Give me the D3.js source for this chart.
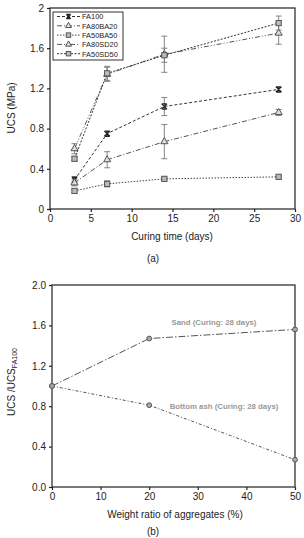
<!DOCTYPE html>
<html>
<head>
<meta charset="utf-8">
<script src="https://cdn.jsdelivr.net/npm/d3@7"></script>
<style>
  body { margin: 0; background: #fff; }
  svg { font-family: "Liberation Sans", Arial, sans-serif; }
</style>
</head>
<body>
<div id="chart"></div>
<script>
'use strict';

// panel (a): UCS vs curing time
var curingDays = [3, 7, 14, 28];
var seriesNames = ['FA100', 'FA80BA20', 'FA50BA50', 'FA80SD20', 'FA50SD50'];
var fa100 = [0.29, 0.75, 1.02, 1.19];
var fa80ba20 = [0.26, 0.49, 0.67, 0.96];
var fa50ba50 = [0.18, 0.25, 0.30, 0.32];
var fa80sd20 = [0.60, 1.34, 1.54, 1.75];
var fa50sd50 = [0.50, 1.35, 1.53, 1.85];
var fa100Err = [0.03, 0.02, 0.09, 0.02];
var fa80ba20Err = [0.03, 0.08, 0.17, 0.03];
var fa50ba50Err = [0.02, 0.03, 0.02, 0.01];
var fa80sd20Err = [0.05, 0.07, 0.18, 0.11];
var fa50sd50Err = [0.02, 0.07, 0.07, 0.07];
var yTicksA = [0, 0.4, 0.8, 1.2, 1.6, 2];
var xTicksA = [0, 5, 10, 15, 20, 25, 30];

// panel (b): UCS ratio vs aggregate ratio
var aggRatio = [0, 20, 50];
var sandRatio = [1.0, 1.47, 1.56];
var bottomAshRatio = [1.0, 0.81, 0.27];
var yTicksB = [0, 0.4, 0.8, 1.2, 1.6, 2.0];
var xTicksB = [0, 10, 20, 30, 40, 50];

var svg = d3.select('#chart').append('svg')
  .attr('width', 304)
  .attr('height', 538);

var ink = '#222';

function drawFrame(g, x, y, xTicks, yTicks, yFmt) {
  var x0 = x.range()[0], x1 = x.range()[1];
  var y0 = y.range()[0], y1 = y.range()[1];
  g.append('rect')
    .attr('x', x0).attr('y', y1)
    .attr('width', x1 - x0).attr('height', y0 - y1)
    .attr('fill', 'none').attr('stroke', ink).attr('stroke-width', 1.2);

  var xAxis = g.append('g').attr('transform', 'translate(0,' + y0 + ')')
    .call(d3.axisBottom(x).tickValues(xTicks).tickSize(3).tickPadding(3));
  var yAxis = g.append('g').attr('transform', 'translate(' + x0 + ',0)')
    .call(d3.axisLeft(y).tickValues(yTicks).tickSize(3).tickPadding(3).tickFormat(yFmt));
  [xAxis, yAxis].forEach(function(ax) {
    ax.select('.domain').remove();
    ax.selectAll('line').attr('stroke', ink).attr('stroke-width', 1.2);
    ax.selectAll('text').attr('fill', ink).style('font-size', '10px')
      .style('font-family', '"Liberation Sans", Arial, sans-serif');
  });
}

function marker(sel, type, size) {
  var s = size || 3;
  if (type === 'x') {
    sel.append('path')
      .attr('d', 'M' + -s + ',' + -s + 'L' + s + ',' + s + 'M' + -s + ',' + s + 'L' + s + ',' + -s +
        'M' + -s + ',' + -s + 'L' + s + ',' + -s + 'M' + -s + ',' + s + 'L' + s + ',' + s)
      .attr('stroke', '#222').attr('stroke-width', 1.3).attr('fill', 'none');
  } else if (type === 'square') {
    sel.append('rect')
      .attr('x', -s).attr('y', -s).attr('width', 2 * s).attr('height', 2 * s)
      .attr('fill', '#bbb').attr('stroke', '#555').attr('stroke-width', 1);
  } else if (type === 'triangle') {
    sel.append('path')
      .attr('d', d3.symbol().type(d3.symbolTriangle).size(s * s * 3.2)())
      .attr('fill', '#ddd').attr('stroke', '#555').attr('stroke-width', 1);
  } else if (type === 'circle') {
    sel.append('circle').attr('r', s)
      .attr('fill', '#aaa').attr('stroke', '#555').attr('stroke-width', 1);
  }
}

// ---------- panel (a)
var xA = d3.scaleLinear().domain([0, 30]).range([50, 295]);
var yA = d3.scaleLinear().domain([0, 2]).range([209, 8]);
var gA = svg.append('g');

var seriesA = [
  { name: seriesNames[0], values: fa100, err: fa100Err, marker: 'x', dash: '3,2', color: '#333' },
  { name: seriesNames[1], values: fa80ba20, err: fa80ba20Err, marker: 'triangle', dash: '5,2,1,2', color: '#555' },
  { name: seriesNames[2], values: fa50ba50, err: fa50ba50Err, marker: 'square', dash: '1.5,1.5', color: '#444' },
  { name: seriesNames[3], values: fa80sd20, err: fa80sd20Err, marker: 'triangle', dash: '5,2,1,2,1,2', color: '#555' },
  { name: seriesNames[4], values: fa50sd50, err: fa50sd50Err, marker: 'square', dash: '2,1.5', color: '#333' }
];

drawFrame(gA, xA, yA, xTicksA, yTicksA, d3.format('~g'));

var lineA = d3.line()
  .x(function(d) { return xA(d.x); })
  .y(function(d) { return yA(d.y); });

seriesA.forEach(function(s) {
  var pts = curingDays.map(function(d, i) { return { x: d, y: s.values[i], e: s.err[i] }; });
  gA.append('path').datum(pts)
    .attr('d', lineA)
    .attr('fill', 'none').attr('stroke', s.color).attr('stroke-width', 1)
    .attr('stroke-dasharray', s.dash);
  var eb = gA.append('g').selectAll('g').data(pts).enter().append('g')
    .attr('stroke', '#777').attr('stroke-width', 0.9);
  eb.append('line')
    .attr('x1', function(d) { return xA(d.x); }).attr('x2', function(d) { return xA(d.x); })
    .attr('y1', function(d) { return yA(d.y - d.e); }).attr('y2', function(d) { return yA(d.y + d.e); });
  eb.append('line')
    .attr('x1', function(d) { return xA(d.x) - 3; }).attr('x2', function(d) { return xA(d.x) + 3; })
    .attr('y1', function(d) { return yA(d.y + d.e); }).attr('y2', function(d) { return yA(d.y + d.e); });
  eb.append('line')
    .attr('x1', function(d) { return xA(d.x) - 3; }).attr('x2', function(d) { return xA(d.x) + 3; })
    .attr('y1', function(d) { return yA(d.y - d.e); }).attr('y2', function(d) { return yA(d.y - d.e); });
  gA.append('g').selectAll('g').data(pts).enter().append('g')
    .attr('transform', function(d) { return 'translate(' + xA(d.x) + ',' + yA(d.y) + ')'; })
    .each(function() { marker(d3.select(this), s.marker, 2.6); });
});

// legend
var leg = gA.append('g').attr('transform', 'translate(53,12)');
leg.append('rect')
  .attr('width', 70).attr('height', 48)
  .attr('fill', '#fff').attr('stroke', '#333').attr('stroke-width', 1);
seriesA.forEach(function(s, i) {
  var row = leg.append('g').attr('transform', 'translate(0,' + (4.5 + i * 9.3) + ')');
  row.append('line').attr('x1', 4).attr('x2', 27).attr('y1', 0).attr('y2', 0)
    .attr('stroke', s.color).attr('stroke-width', 1).attr('stroke-dasharray', s.dash);
  var m = row.append('g').attr('transform', 'translate(15.5,0)');
  marker(m, s.marker, 2.2);
  row.append('text').attr('x', 29).attr('y', 2.8)
    .attr('fill', ink).style('font-size', '7.4px').text(s.name);
});

gA.append('text')
  .attr('transform', 'translate(15,108) rotate(-90)')
  .attr('text-anchor', 'middle').attr('fill', ink).style('font-size', '10px')
  .text('UCS (MPa)');
gA.append('text')
  .attr('x', 172).attr('y', 240).attr('text-anchor', 'middle')
  .attr('fill', ink).style('font-size', '10px').text('Curing time (days)');
gA.append('text')
  .attr('x', 153).attr('y', 262).attr('text-anchor', 'middle')
  .attr('fill', ink).style('font-size', '10px').text('(a)');

// ---------- panel (b)
var xB = d3.scaleLinear().domain([0, 50]).range([52, 295]);
var yB = d3.scaleLinear().domain([0, 2]).range([487, 285]);
var gB = svg.append('g');

drawFrame(gB, xB, yB, xTicksB, yTicksB, d3.format('.1f'));

var seriesB = [
  { values: sandRatio, dash: '7,2,1.5,2', label: 'Sand (Curing: 28 days)', lx: 214, ly: 325 },
  { values: bottomAshRatio, dash: '3,2,1,2', label: 'Bottom ash (Curing: 28 days)', lx: 224, ly: 409 }
];

var lineB = d3.line()
  .x(function(d) { return xB(d.x); })
  .y(function(d) { return yB(d.y); });

seriesB.forEach(function(s) {
  var pts = aggRatio.map(function(d, i) { return { x: d, y: s.values[i] }; });
  gB.append('path').datum(pts)
    .attr('d', lineB)
    .attr('fill', 'none').attr('stroke', '#555').attr('stroke-width', 1)
    .attr('stroke-dasharray', s.dash);
  gB.append('g').selectAll('g').data(pts).enter().append('g')
    .attr('transform', function(d) { return 'translate(' + xB(d.x) + ',' + yB(d.y) + ')'; })
    .each(function() { marker(d3.select(this), 'circle', 2.4); });
  gB.append('text')
    .attr('x', s.lx).attr('y', s.ly).attr('text-anchor', 'middle')
    .attr('fill', '#999').style('font-size', '7.8px').style('font-weight', 'bold')
    .text(s.label);
});

var yLab = gB.append('text')
  .attr('transform', 'translate(15,382) rotate(-90)')
  .attr('text-anchor', 'middle').attr('fill', ink).style('font-size', '10px');
yLab.append('tspan').text('UCS /UCS');
yLab.append('tspan').attr('dy', 2).style('font-size', '7px').text('FA100');

gB.append('text')
  .attr('x', 175).attr('y', 518).attr('text-anchor', 'middle')
  .attr('fill', ink).style('font-size', '10px').text('Weight ratio of aggregates (%)');
gB.append('text')
  .attr('x', 153).attr('y', 535).attr('text-anchor', 'middle')
  .attr('fill', ink).style('font-size', '10px').text('(b)');
</script>
</body>
</html>
